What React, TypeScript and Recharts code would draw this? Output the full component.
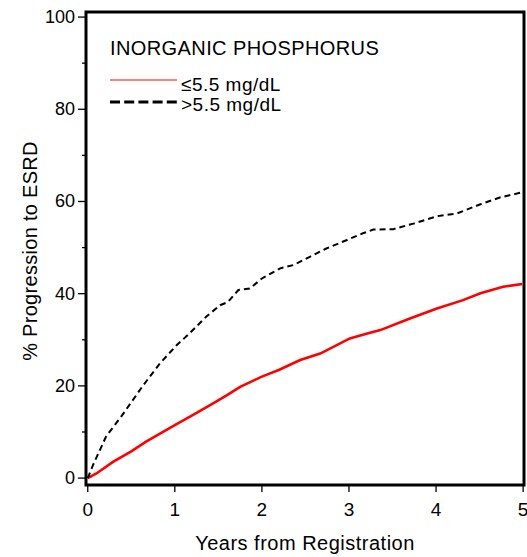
import React from 'react';
import { LineChart, Line, XAxis, YAxis, Customized } from 'recharts';

const lowTimes = [0, 0.1, 0.29, 0.5, 0.67, 1.0, 1.2, 1.44, 1.6, 1.75, 2.0, 2.2, 2.44, 2.67, 3.01, 3.2, 3.36, 3.7, 4.01, 4.31, 4.51, 4.77, 4.99];
const lowValues = [0, 1.0, 3.5, 5.8, 7.9, 11.5, 13.6, 16.2, 18.0, 19.8, 22.0, 23.5, 25.6, 27.0, 30.3, 31.3, 32.1, 34.6, 36.8, 38.6, 40.1, 41.5, 42.1];

const highTimes = [0, 0.06, 0.21, 0.39, 0.64, 0.83, 1.02, 1.17, 1.36, 1.52, 1.61, 1.73, 1.86, 2.0, 2.21, 2.36, 2.55, 2.74, 2.97, 3.16, 3.28, 3.51, 3.74, 4.01, 4.24, 4.51, 4.74, 4.97];
const highValues = [0, 2.8, 9.0, 13.5, 20.2, 24.9, 28.8, 31.4, 35.0, 37.5, 38.2, 40.8, 41.1, 43.3, 45.5, 46.2, 48.0, 49.8, 51.6, 53.1, 53.9, 54.0, 55.2, 56.8, 57.4, 59.4, 60.9, 61.9];

const xTicks = [0, 1, 2, 3, 4, 5];
const yTicks = [0, 10, 20, 30, 40, 50, 60, 70, 80, 90, 100];
const yLabelTicks = [0, 20, 40, 60, 80, 100];

const titleText = 'INORGANIC PHOSPHORUS';
const seriesNames = ['≤5.5 mg/dL', '>5.5 mg/dL'];
const xAxisTitle = 'Years from Registration';
const yAxisTitle = '% Progression to ESRD';

const lowData = lowTimes.map((t, i) => ({ t, v: lowValues[i] }));
const highData = highTimes.map((t, i) => ({ t, v: highValues[i] }));

const FONT = '"Liberation Sans", Arial, Helvetica, sans-serif';
const CHART_W = 519;
const CHART_H = 549;
const MARGIN = { top: 4, right: 3, bottom: 32, left: 0 };
const Y_AXIS_W = 78;
const X_AXIS_H = 40;
const Y_TICK_SIZE = 8;
const Y_TICK_MARGIN = 3;
const X_TICK_SIZE = 7;
const X_TICK_MARGIN = 10;

const YTick = (props: any) => {
  const { x, y, payload } = props;
  const axisX = x + Y_TICK_SIZE + Y_TICK_MARGIN;
  const major = yLabelTicks.includes(payload.value);
  return (
    <g>
      <line x1={axisX - (major ? Y_TICK_SIZE : 4)} x2={axisX} y1={y} y2={y} stroke="#000" strokeWidth={1.3} />
      {major && (
        <text x={x} y={y} textAnchor="end" dominantBaseline="central" fontSize={18} fontFamily={FONT} fill="#000">
          {payload.value}
        </text>
      )}
    </g>
  );
};

const XTick = (props: any) => {
  const { x, y, payload } = props;
  const axisY = y - X_TICK_SIZE - X_TICK_MARGIN;
  return (
    <g>
      <line x1={x} x2={x} y1={axisY} y2={axisY + X_TICK_SIZE} stroke="#000" strokeWidth={1.3} />
      <text x={x} y={y} textAnchor="middle" dy="0.72em" fontSize={19} fontFamily={FONT} fill="#000">
        {payload.value}
      </text>
    </g>
  );
};

const Frame = () => {
  const x = MARGIN.left + Y_AXIS_W;
  const y = MARGIN.top;
  const w = CHART_W - MARGIN.left - MARGIN.right - Y_AXIS_W;
  const h = CHART_H - MARGIN.top - MARGIN.bottom - X_AXIS_H;
  return <rect x={x} y={y} width={w} height={h} fill="none" stroke="#000" strokeWidth={3} />;
};

const Annotations = () => (
  <g fontFamily={FONT} fill="#000">
    <text x={102} y={47} fontSize={20} letterSpacing={0.4}>{titleText}</text>
    <line x1={102} x2={169} y1={72} y2={72} stroke="#ff0000" strokeWidth={1.2} />
    <text x={173} y={83} fontSize={19} letterSpacing={0.5}>{seriesNames[0]}</text>
    <line x1={102} x2={169} y1={94} y2={94} stroke="#000" strokeWidth={3} strokeDasharray="10 4.2" />
    <text x={173} y={103} fontSize={19} letterSpacing={0.5}>{seriesNames[1]}</text>
    <text x={297} y={542} fontSize={20} letterSpacing={0.5} textAnchor="middle">{xAxisTitle}</text>
    <text
      x={22}
      y={243}
      fontSize={20}
      letterSpacing={0.3}
      textAnchor="middle"
      dominantBaseline="central"
      transform="rotate(-90 22 243)"
    >
      {yAxisTitle}
    </text>
  </g>
);

export default function App() {
  return (
    <div style={{ position: 'fixed', left: 8, top: 8, width: CHART_W, height: CHART_H, background: '#fff' }}>
      <LineChart width={CHART_W} height={CHART_H} margin={MARGIN}>
        <XAxis
          type="number"
          dataKey="t"
          domain={[-0.02, 5.01]}
          allowDataOverflow
          ticks={xTicks}
          interval={0}
          axisLine={false}
          tickLine={false}
          tickSize={X_TICK_SIZE}
          tickMargin={X_TICK_MARGIN}
          tick={<XTick />}
          height={X_AXIS_H}
        />
        <YAxis
          type="number"
          dataKey="v"
          domain={[-1.5, 101.1]}
          allowDataOverflow
          ticks={yTicks}
          interval={0}
          axisLine={false}
          tickLine={false}
          tickSize={Y_TICK_SIZE}
          tickMargin={Y_TICK_MARGIN}
          tick={<YTick />}
          width={Y_AXIS_W}
        />
        <Line
          data={lowData}
          dataKey="v"
          type="linear"
          stroke="#ff0000"
          strokeWidth={2.6}
          dot={false}
          isAnimationActive={false}
        />
        <Line
          data={highData}
          dataKey="v"
          type="linear"
          stroke="#000"
          strokeWidth={2}
          strokeDasharray="6 4"
          dot={false}
          isAnimationActive={false}
        />
        <Customized component={Frame} />
        <Customized component={Annotations} />
      </LineChart>
    </div>
  );
}
